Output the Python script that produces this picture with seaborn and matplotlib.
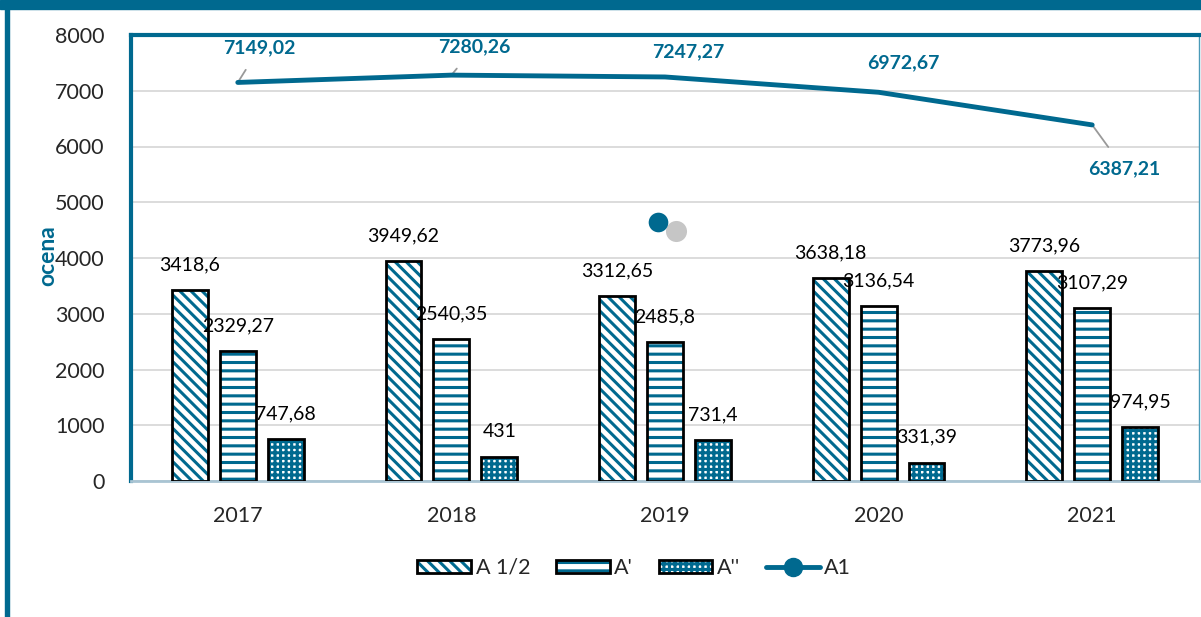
import pandas as pd
import matplotlib.pyplot as plt
import seaborn as sns
from matplotlib.patches import Rectangle, Patch
from matplotlib.lines import Line2D
from matplotlib.legend_handler import HandlerTuple

years = ["2017", "2018", "2019", "2020", "2021"]
a_half = [3418.6, 3949.62, 3312.65, 3638.18, 3773.96]
a_prime = [2329.27, 2540.35, 2485.8, 3136.54, 3107.29]
a_dprime = [747.68, 431, 731.4, 331.39, 974.95]
a1 = [7149.02, 7280.26, 7247.27, 6972.67, 6387.21]
a_half_lbl = ["3418,6", "3949,62", "3312,65", "3638,18", "3773,96"]
a_prime_lbl = ["2329,27", "2540,35", "2485,8", "3136,54", "3107,29"]
a_dprime_lbl = ["747,68", "431", "731,4", "331,39", "974,95"]
a1_lbl = ["7149,02", "7280,26", "7247,27", "6972,67", "6387,21"]
series = ["A 1/2", "A'", "A''"]
# stray marker that sits inside the plot area
stray_x = [1.967]
stray_y = [4640]

teal = "#00698f"

sns.set_style("white")
plt.rcParams["font.family"] = ["Lato", "DejaVu Sans"]
plt.rcParams["hatch.linewidth"] = 2.2

df = pd.DataFrame({
    "year": years * 3,
    "value": a_half + a_prime + a_dprime,
    "series": [s for s in series for _ in years],
})

fig = plt.figure(figsize=(12.01, 6.17), dpi=100)
ax = fig.add_axes([131 / 1201, 1 - 481 / 617, 1068 / 1201, 446 / 617])

sns.barplot(data=df, x="year", y="value", hue="series", hue_order=series,
            width=0.672, gap=0.25, legend=False, ax=ax)

styles = [("white", teal, "\\\\\\"), ("white", teal, "--"), ("white", teal, "+++")]
for i, (fc, hc, hatch) in enumerate(styles):
    bars = ax.patches[i * 5:(i + 1) * 5]
    for p in bars:
        p.set_facecolor(fc)
        p.set_edgecolor(hc)
        p.set_hatch(hatch)
        p.set_linewidth(0)
        ax.add_patch(Rectangle(p.get_xy(), p.get_width(), p.get_height(),
                               facecolor="none", edgecolor="black", lw=2, zorder=3))

for cont, lbls in zip(ax.containers, [a_half_lbl, a_prime_lbl, a_dprime_lbl]):
    ax.bar_label(cont, labels=lbls, padding=12, fontsize=14, color="black")

xpos = list(range(len(years)))
sns.lineplot(x=xpos, y=a1, color=teal, lw=3.5, ax=ax, zorder=4)
ax.scatter([x + 0.084 for x in stray_x], [y - 160 for y in stray_y], s=230,
           color="#a0a0a0", alpha=0.6, zorder=4, linewidths=0)
ax.scatter(stray_x, stray_y, s=200, color=teal, zorder=5, linewidths=0)

offsets = [(22, 35), (23, 28), (23, 25), (25, 30), (32, -44)]
leaders = [True, True, False, False, True]
for x, y, t, (dx, dy), lead in zip(xpos, a1, a1_lbl, offsets, leaders):
    ax.annotate(t, (x, y), xytext=(dx * 0.72, dy * 0.72), textcoords="offset points",
                ha="center", va="center", fontsize=14, fontweight="bold", color=teal,
                arrowprops=dict(arrowstyle="-", color="#999999", lw=1.3,
                                shrinkA=9, shrinkB=1) if lead else None)

ax.set_xlim(-0.5, 4.5)
ax.set_ylim(0, 8000)
ax.set_yticks(range(0, 8001, 1000))
ax.yaxis.grid(True, color="#d9d9d9", lw=1.3)
ax.set_axisbelow(True)
ax.tick_params(axis="y", length=0, pad=19, labelsize=15.5)
ax.tick_params(axis="x", length=0, pad=18, labelsize=15.5)
ax.set_xlabel("")
ax.set_ylabel("")
for s in ["top", "left"]:
    ax.spines[s].set_color(teal)
    ax.spines[s].set_linewidth(3)
ax.spines["right"].set_color("#4a9ab8")
ax.spines["right"].set_linewidth(1)
ax.spines["bottom"].set_color("#a9c4d3")
ax.spines["bottom"].set_linewidth(2)

fig.text(48 / 1201, 1 - 256 / 617, "ocena", rotation=90, ha="center", va="center",
         fontsize=16.5, fontweight="bold", color=teal)

handles = [(Patch(facecolor=fc, edgecolor=hc, hatch=h, lw=0),
            Patch(facecolor="none", edgecolor="black", lw=2)) for fc, hc, h in styles]
handles.append(Line2D([0], [0], color=teal, lw=3.5, marker="o", markersize=13))
fig.legend(handles, series + ["A1"], loc="center", bbox_to_anchor=(0.528, 1 - 568 / 617),
           ncol=4, frameon=False, fontsize=15.5, handlelength=2.5,
           handletextpad=0.2, columnspacing=1.2, handleheight=0.6,
           handler_map={tuple: HandlerTuple(ndivide=1, pad=0)})

# figure border bands
fig.add_artist(Rectangle((0, 1 - 9 / 617), 1, 9 / 617, transform=fig.transFigure,
                         color=teal, zorder=0))
fig.add_artist(Rectangle((5 / 1201, 0), 3.5 / 1201, 1, transform=fig.transFigure,
                         color=teal, zorder=0))

fig.savefig("out.png", dpi=100)
